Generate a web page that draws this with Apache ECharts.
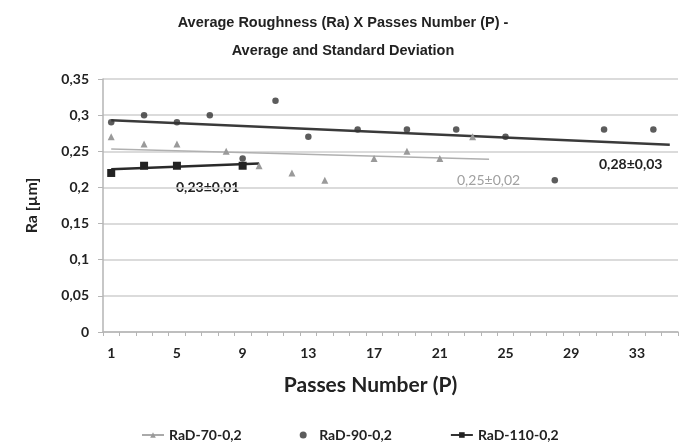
<!DOCTYPE html>
<html><head><meta charset="utf-8">
<script src="https://cdn.jsdelivr.net/npm/echarts@6/dist/echarts.min.js"></script>
<style>html,body{margin:0;padding:0;background:#fff}#c{width:686px;height:445px}</style>
</head><body><div id="c"></div>
<script>
// categories (passes number)
const passes = Array.from({length: 35}, (_, i) => String(i + 1));
const yTicks = [0, 0.05, 0.1, 0.15, 0.2, 0.25, 0.3, 0.35];

// RaD-70-0,2
const p70 = [1, 3, 5, 8, 10, 12, 14, 17, 19, 21, 23];
const v70 = [0.27, 0.26, 0.26, 0.25, 0.23, 0.22, 0.21, 0.24, 0.25, 0.24, 0.27];
// RaD-90-0,2
const p90 = [1, 3, 5, 7, 9, 11, 13, 16, 19, 22, 25, 28, 31, 34];
const v90 = [0.29, 0.30, 0.29, 0.30, 0.24, 0.32, 0.27, 0.28, 0.28, 0.28, 0.27, 0.21, 0.28, 0.28];
// RaD-110-0,2
const p110 = [1, 3, 5, 9];
const v110 = [0.22, 0.23, 0.23, 0.23];

// trend lines (endpoints)
const t70x = [1, 24], t70y = [0.253, 0.239];
const t90x = [1, 35], t90y = [0.293, 0.259];
const t110x = [1, 10], t110y = [0.225, 0.233];

const labels = ['0,23±0,01', '0,25±0,02', '0,28±0,03'];

const zip = (a, b) => a.map((x, i) => [x, b[i]]);
const lab = '"Lato", "Liberation Sans", sans-serif';

const chart = echarts.init(document.getElementById('c'), null, {renderer: 'canvas'});
chart.setOption({
  animation: false,
  title: {
    text: 'Average Roughness (Ra) X Passes Number (P) -\nAverage and Standard Deviation',
    left: 'center', top: 4,
    textStyle: {fontFamily: '"Liberation Sans", Arial, sans-serif', fontWeight: 'bold', fontSize: 14.5, lineHeight: 28, color: '#222'}
  },
  grid: {left: 103, right: 8, top: 79, bottom: 113, containLabel: false},
  legend: {
    left: 136, top: 423, itemGap: 58, itemWidth: 22, itemHeight: 7,
    textStyle: {fontFamily: lab, fontWeight: 'bold', fontSize: 14, color: '#222'},
    data: [
      {name: 'RaD-70-0,2', lineStyle: {opacity: 1, width: 2, color: '#aaa'}},
      {name: 'RaD-90-0,2'},
      {name: 'RaD-110-0,2', lineStyle: {opacity: 1, width: 2, color: '#333'}}
    ]
  },
  xAxis: [{
    type: 'category', data: passes, boundaryGap: true,
    name: 'Passes Number (P)', nameLocation: 'middle', nameGap: 43,
    nameTextStyle: {fontFamily: lab, fontWeight: 'bold', fontSize: 21, color: '#222', padding: [0, 40, 0, 0]},
    axisLine: {lineStyle: {color: '#b5b5b5', width: 1.5}},
    axisTick: {show: true, interval: 0, length: 4, lineStyle: {color: '#b5b5b5'}},
    axisLabel: {interval: 3, margin: 14, fontFamily: lab, fontWeight: 'bold', fontSize: 14, color: '#222'},
    splitLine: {show: false}
  }, {
    type: 'value', min: 0.5, max: 35.5, show: false
  }],
  yAxis: {
    type: 'value', min: 0, max: 0.35, interval: 0.05,
    name: 'Ra [µm]', nameLocation: 'middle', nameGap: 63, nameRotate: 90,
    nameTextStyle: {fontFamily: lab, fontWeight: 'bold', fontSize: 16, color: '#222'},
    axisLine: {show: true, lineStyle: {color: '#b5b5b5', width: 1.5}},
    axisTick: {show: true, length: 5, lineStyle: {color: '#b5b5b5'}},
    axisLabel: {margin: 14, fontFamily: lab, fontWeight: 'bold', fontSize: 14, color: '#222',
      formatter: v => yTicks.includes(+v.toFixed(2)) ? String(+v.toFixed(2)).replace('.', ',') : ''},
    splitLine: {lineStyle: {color: '#cfcfcf', width: 1.5}}
  },
  series: [
    {name: 'trend90', type: 'line', xAxisIndex: 1, data: zip(t90x, t90y), symbol: 'none', silent: true,
      lineStyle: {color: '#3a3a3a', width: 2.5}, z: 1},
    {name: 'trend70', type: 'line', xAxisIndex: 1, data: zip(t70x, t70y), symbol: 'none', silent: true,
      lineStyle: {color: '#b0b0b0', width: 1.5}, z: 1},
    {name: 'trend110', type: 'line', xAxisIndex: 1, data: zip(t110x, t110y), symbol: 'none', silent: true,
      lineStyle: {color: '#2a2a2a', width: 2.5}, z: 1},
    {name: 'RaD-70-0,2', type: 'line', xAxisIndex: 1, data: zip(p70, v70), symbol: 'triangle', symbolSize: 7,
      showSymbol: true, itemStyle: {color: '#9a9a9a'}, lineStyle: {opacity: 0, width: 0}, z: 3},
    {name: 'RaD-90-0,2', type: 'scatter', xAxisIndex: 1, data: zip(p90, v90), symbol: 'circle', symbolSize: 6.5,
      itemStyle: {color: '#333'}, z: 3},
    {name: 'RaD-110-0,2', type: 'line', xAxisIndex: 1, data: zip(p110, v110), symbol: 'rect', symbolSize: 8,
      showSymbol: true, itemStyle: {color: '#222'}, lineStyle: {opacity: 0, width: 0}, z: 3}
  ],
  graphic: [
    {type: 'text', left: 176, top: 180, style: {text: labels[0], font: 'bold 14px ' + lab, fill: '#222'}},
    {type: 'text', left: 457, top: 173, style: {text: labels[1], font: '14px ' + lab, fill: '#a0a0a0'}},
    {type: 'text', left: 599, top: 157, style: {text: labels[2], font: 'bold 14px ' + lab, fill: '#222'}}
  ]
});
</script></body></html>
